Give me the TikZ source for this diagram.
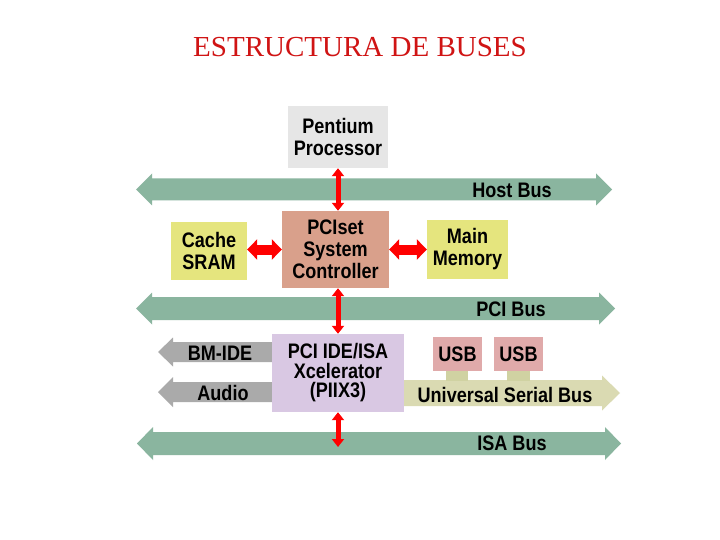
\documentclass[tikz,border=0pt]{standalone}
\usepackage{fontspec}
\setmainfont{Liberation Serif}
\newfontfamily\diagfont[FakeStretch=0.86]{Liberation Sans}
\usetikzlibrary{arrows.meta}
\definecolor{busgreen}{HTML}{8AB59F}
\definecolor{pentgray}{HTML}{E6E6E6}
\definecolor{salmon}{HTML}{D9A08B}
\definecolor{memyellow}{HTML}{E5E57E}
\definecolor{lavender}{HTML}{D9C8E3}
\definecolor{usbpink}{HTML}{E0AAAA}
\definecolor{usbkhaki}{HTML}{DADAB2}
\definecolor{usbconn}{HTML}{D0D2A2}
\definecolor{arrgray}{HTML}{AAAAAA}
\definecolor{titlered}{HTML}{D01414}
% double fat arrow: x1, x2, yc, half body, half head, head length
\newcommand\dblfat[7]{\fill[#1] (#2,#4) -- ({#2+#7},{#4-#6}) -- ({#2+#7},{#4-#5}) -- ({#3-#7},{#4-#5}) -- ({#3-#7},{#4-#6}) -- (#3,#4) -- ({#3-#7},{#4+#6}) -- ({#3-#7},{#4+#5}) -- ({#2+#7},{#4+#5}) -- ({#2+#7},{#4+#6}) -- cycle;}
% single fat arrow: x1 (flat end), x2 (tip), yc, half body, half head, x of head base
\newcommand\onefat[7]{\fill[#1] (#2,{#4-#5}) -- (#7,{#4-#5}) -- (#7,{#4-#6}) -- (#3,#4) -- (#7,{#4+#6}) -- (#7,{#4+#5}) -- (#2,{#4+#5}) -- cycle;}
\begin{document}
\begin{tikzpicture}[x=1pt,y=-1pt,
  txt/.style={inner sep=0pt, align=center, text=black,
    font=\diagfont\bfseries\fontsize{21}{22}\selectfont},
  redv/.style={draw=red, line width=5pt,
    {Triangle[width=12pt,length=8pt]}-{Triangle[width=12pt,length=8pt]}},
  redh/.style={draw=red, line width=10pt,
    {Triangle[width=20pt,length=10pt]}-{Triangle[width=20pt,length=10pt]}}]
\useasboundingbox (0,0) rectangle (720,540);
\fill[white] (0,0) rectangle (720,540);

% title
\node[font=\fontsize{29}{31}\selectfont, text=titlered, inner sep=0pt] (title) at (360,47.5) {ESTRUCTURA DE BUSES};

% buses
\dblfat{busgreen}{136}{612}{189.5}{11}{16}{16}
\dblfat{busgreen}{136}{615}{308.5}{11.5}{16}{16}
\dblfat{busgreen}{137}{621}{443.5}{11.5}{16.5}{16}
\node[txt] (hostbus) at (512,190) {Host Bus};
\node[txt] (pcibus) at (511,309) {PCI Bus};
\node[txt] (isabus) at (512,443) {ISA Bus};
\coordinate (isa) at (338,447);

% side buses
\onefat{arrgray}{280}{158}{352}{10}{14.5}{173}
\onefat{arrgray}{280}{158}{392}{10}{15}{173}
\node[txt] (bmide) at (220,353) {BM-IDE};
\node[txt] (audio) at (223,393) {Audio};

\onefat{usbkhaki}{400}{620}{393}{13}{17.5}{602}
\fill[usbconn] (446,370) rectangle (468,381);
\fill[usbconn] (507,370) rectangle (530,381);
\node[txt] (usbbus) at (505,395) {Universal Serial Bus};

% blocks
\node[txt, fill=pentgray, minimum width=100pt, minimum height=62pt] (pent) at (338,137) {Pentium\\Processor};
\node[txt, fill=salmon, minimum width=107pt, minimum height=77pt] (pcis) at (335.5,249.5) {PCIset\\System\\Controller};
\node[txt, fill=memyellow, minimum width=76pt, minimum height=58pt] (cache) at (209,251) {Cache\\SRAM};
\node[txt, fill=memyellow, minimum width=81pt, minimum height=59pt] (mem) at (467.5,249.5) {Main\\Memory};
\node[txt, fill=lavender, minimum width=132pt, minimum height=78pt,
  font=\diagfont\bfseries\fontsize{21}{19.5}\selectfont] (piix) at (338,373) {PCI IDE/ISA\\Xcelerator\\(PIIX3)};
\node[txt, fill=usbpink, minimum width=49pt, minimum height=34pt] (usb1) at (457.5,354) {USB};
\node[txt, fill=usbpink, minimum width=49pt, minimum height=34pt] (usb2) at (518.5,354) {USB};

% red connectors
\draw[redv] (pent.south) -- (pent.south |- pcis.north);
\draw[redv] (pcis.south -| piix.north) -- (piix.north);
\draw[redv] (piix.south) -- (isa);
\draw[redh] (cache.east |- pcis.west) -- (pcis.west);
\draw[redh] (pcis.east) -- (mem.west |- pcis.east);
\end{tikzpicture}
\end{document}
